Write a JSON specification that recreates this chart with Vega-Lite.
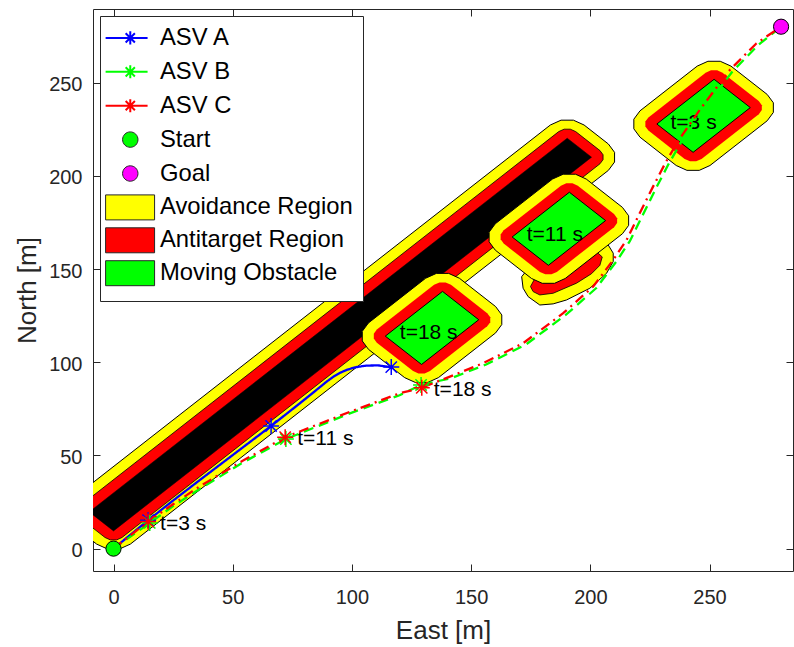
{
  "$schema": "https://vega.github.io/schema/vega-lite/v6.json",
  "width": 700,
  "height": 562,
  "autosize": {"type": "none"},
  "padding": {"left": 93, "top": 9, "right": 1, "bottom": 76},
  "background": "#ffffff",
  "config": {
    "font": "Liberation Sans",
    "view": {"stroke": null},
    "axis": {
      "grid": false, "domainColor": "#262626", "domainWidth": 1, "tickColor": "#262626", "tickWidth": 1,
      "labelColor": "#262626", "titleColor": "#262626", "labelFont": "Liberation Sans", "titleFont": "Liberation Sans",
      "labelFontSize": 20, "titleFontSize": 26, "titleFontWeight": "normal", "tickSize": -7, "zindex": 1,
      "labelFlush": false, "labelOverlap": false
    }
  },
  "encoding": {
    "x": {"field": "x", "type": "quantitative", "scale": {"domain": [-8.6, 285], "nice": false, "zero": false},
      "axis": {"orient": "bottom", "values": [0, 50, 100, 150, 200, 250], "title": "East [m]", "labelPadding": 23, "titlePadding": 10}},
    "y": {"field": "y", "type": "quantitative", "scale": {"domain": [-12, 289.5], "nice": false, "zero": false},
      "axis": {"orient": "left", "values": [0, 50, 100, 150, 200, 250], "title": "North [m]", "labelPadding": 18, "labelOffset": 2, "titlePadding": 8}}
  },
  "layer": [
    {
      "encoding": {"order": {"field": "i", "type": "quantitative"}},
      "layer": [
        {"data": {"values": [
          {"i":0,"x":-17.27,"y":12.63},{"i":1,"x":-19.86,"y":17.11},{"i":2,"x":-19.86,"y":22.29},{"i":3,"x":-17.27,"y":26.77},
          {"i":4,"x":183.23,"y":227.27},{"i":5,"x":187.71,"y":229.86},{"i":6,"x":192.89,"y":229.86},{"i":7,"x":197.37,"y":227.27},
          {"i":8,"x":207.57,"y":217.07},{"i":9,"x":210.16,"y":212.59},{"i":10,"x":210.16,"y":207.41},{"i":11,"x":207.57,"y":202.93},
          {"i":12,"x":7.07,"y":2.43},{"i":13,"x":2.59,"y":-0.16},{"i":14,"x":-2.59,"y":-0.16},{"i":15,"x":-7.07,"y":2.43}]},
         "mark": {"type": "line", "interpolate": "linear-closed", "fill": "#ffff00", "stroke": "#000000", "strokeWidth": 1, "clip": true}},
        {"data": {"values": [
          {"i":0,"x":-13.74,"y":16.16},{"i":1,"x":-15.03,"y":18.41},{"i":2,"x":-15.03,"y":20.99},{"i":3,"x":-13.74,"y":23.24},
          {"i":4,"x":186.76,"y":223.74},{"i":5,"x":189.01,"y":225.03},{"i":6,"x":191.59,"y":225.03},{"i":7,"x":193.84,"y":223.74},
          {"i":8,"x":204.04,"y":213.54},{"i":9,"x":205.33,"y":211.29},{"i":10,"x":205.33,"y":208.71},{"i":11,"x":204.04,"y":206.46},
          {"i":12,"x":3.54,"y":5.96},{"i":13,"x":1.29,"y":4.67},{"i":14,"x":-1.29,"y":4.67},{"i":15,"x":-3.54,"y":5.96}]},
         "mark": {"type": "line", "interpolate": "linear-closed", "fill": "#ff0000", "stroke": "#000000", "strokeWidth": 0.8, "clip": true}},
        {"data": {"values": [
          {"i":0,"x":-10.2,"y":19.7},{"i":1,"x":190.3,"y":220.2},{"i":2,"x":200.5,"y":210.0},{"i":3,"x":0,"y":9.5}]},
         "mark": {"type": "line", "interpolate": "linear-closed", "fill": "#000000", "stroke": "#000000", "strokeWidth": 0.5, "clip": true}},

        {"data": {"values": [
          {"i":0,"x":171.2,"y":145.9},{"i":1,"x":171.8,"y":139.7},{"i":2,"x":173.9,"y":135.2},{"i":3,"x":178.8,"y":130.7},
          {"i":4,"x":184.4,"y":131.3},{"i":5,"x":190.0,"y":133.4},{"i":6,"x":199.8,"y":139.7},{"i":7,"x":206.8,"y":147.7},
          {"i":8,"x":209.6,"y":154.0},{"i":9,"x":209.6,"y":158.5},{"i":10,"x":207.5,"y":162.9},{"i":11,"x":200,"y":168},
          {"i":12,"x":185,"y":160},{"i":13,"x":175,"y":152}]},
         "mark": {"type": "line", "interpolate": "linear-closed", "fill": "#ffff00", "stroke": "#000000", "strokeWidth": 1, "clip": true}},
        {"data": {"values": [
          {"i":0,"x":174.9,"y":140.6},{"i":1,"x":176.0,"y":137.9},{"i":2,"x":178.8,"y":136.1},{"i":3,"x":184.4,"y":137.0},
          {"i":4,"x":194.2,"y":142.4},{"i":5,"x":200.5,"y":147.5},{"i":6,"x":204.0,"y":152.0},{"i":7,"x":205.0,"y":156.5},
          {"i":8,"x":201.0,"y":161.0},{"i":9,"x":190.0,"y":157.0},{"i":10,"x":178.0,"y":148.0}]},
         "mark": {"type": "line", "interpolate": "linear-closed", "fill": "#ff0000", "stroke": "#000000", "strokeWidth": 0.8, "clip": true}},

        {"data": {"values": [
          {"i":0,"x":106.93,"y":106.93},{"i":1,"x":104.34,"y":111.41},{"i":2,"x":104.34,"y":116.59},{"i":3,"x":106.93,"y":121.07},
          {"i":4,"x":130.93,"y":145.07},{"i":5,"x":135.41,"y":147.66},{"i":6,"x":140.59,"y":147.66},{"i":7,"x":145.07,"y":145.07},
          {"i":8,"x":160.27,"y":129.87},{"i":9,"x":162.86,"y":125.39},{"i":10,"x":162.86,"y":120.21},{"i":11,"x":160.27,"y":115.73},
          {"i":12,"x":136.27,"y":91.73},{"i":13,"x":131.79,"y":89.14},{"i":14,"x":126.61,"y":89.14},{"i":15,"x":122.13,"y":91.73}]},
         "mark": {"type": "line", "interpolate": "linear-closed", "fill": "#ffff00", "stroke": "#000000", "strokeWidth": 1, "clip": true}},
        {"data": {"values": [
          {"i":0,"x":110.46,"y":110.46},{"i":1,"x":109.17,"y":112.71},{"i":2,"x":109.17,"y":115.29},{"i":3,"x":110.46,"y":117.54},
          {"i":4,"x":134.46,"y":141.54},{"i":5,"x":136.71,"y":142.83},{"i":6,"x":139.29,"y":142.83},{"i":7,"x":141.54,"y":141.54},
          {"i":8,"x":156.74,"y":126.34},{"i":9,"x":158.03,"y":124.09},{"i":10,"x":158.03,"y":121.51},{"i":11,"x":156.74,"y":119.26},
          {"i":12,"x":132.74,"y":95.26},{"i":13,"x":130.49,"y":93.97},{"i":14,"x":127.91,"y":93.97},{"i":15,"x":125.66,"y":95.26}]},
         "mark": {"type": "line", "interpolate": "linear-closed", "fill": "#ff0000", "stroke": null, "clip": true}},
        {"data": {"values": [
          {"i":0,"x":114.0,"y":114.0},{"i":1,"x":138.0,"y":138.0},{"i":2,"x":153.2,"y":122.8},{"i":3,"x":129.2,"y":98.8}]},
         "mark": {"type": "line", "interpolate": "linear-closed", "fill": "#00ff00", "stroke": "#000000", "strokeWidth": 1, "clip": true}},

        {"data": {"values": [
          {"i":0,"x":160.13,"y":160.13},{"i":1,"x":157.54,"y":164.61},{"i":2,"x":157.54,"y":169.79},{"i":3,"x":160.13,"y":174.27},
          {"i":4,"x":184.13,"y":198.27},{"i":5,"x":188.61,"y":200.86},{"i":6,"x":193.79,"y":200.86},{"i":7,"x":198.27,"y":198.27},
          {"i":8,"x":213.47,"y":183.07},{"i":9,"x":216.06,"y":178.59},{"i":10,"x":216.06,"y":173.41},{"i":11,"x":213.47,"y":168.93},
          {"i":12,"x":189.47,"y":144.93},{"i":13,"x":184.99,"y":142.34},{"i":14,"x":179.81,"y":142.34},{"i":15,"x":175.33,"y":144.93}]},
         "mark": {"type": "line", "interpolate": "linear-closed", "fill": "#ffff00", "stroke": "#000000", "strokeWidth": 1, "clip": true}},
        {"data": {"values": [
          {"i":0,"x":163.66,"y":163.66},{"i":1,"x":162.37,"y":165.91},{"i":2,"x":162.37,"y":168.49},{"i":3,"x":163.66,"y":170.74},
          {"i":4,"x":187.66,"y":194.74},{"i":5,"x":189.91,"y":196.03},{"i":6,"x":192.49,"y":196.03},{"i":7,"x":194.74,"y":194.74},
          {"i":8,"x":209.94,"y":179.54},{"i":9,"x":211.23,"y":177.29},{"i":10,"x":211.23,"y":174.71},{"i":11,"x":209.94,"y":172.46},
          {"i":12,"x":185.94,"y":148.46},{"i":13,"x":183.69,"y":147.17},{"i":14,"x":181.11,"y":147.17},{"i":15,"x":178.86,"y":148.46}]},
         "mark": {"type": "line", "interpolate": "linear-closed", "fill": "#ff0000", "stroke": null, "clip": true}},
        {"data": {"values": [
          {"i":0,"x":167.2,"y":167.2},{"i":1,"x":191.2,"y":191.2},{"i":2,"x":206.4,"y":176.0},{"i":3,"x":182.4,"y":152.0}]},
         "mark": {"type": "line", "interpolate": "linear-closed", "fill": "#00ff00", "stroke": "#000000", "strokeWidth": 1, "clip": true}},

        {"data": {"values": [
          {"i":0,"x":220.83,"y":220.73},{"i":1,"x":218.24,"y":225.21},{"i":2,"x":218.24,"y":230.39},{"i":3,"x":220.83,"y":234.87},
          {"i":4,"x":244.83,"y":258.87},{"i":5,"x":249.31,"y":261.46},{"i":6,"x":254.49,"y":261.46},{"i":7,"x":258.97,"y":258.87},
          {"i":8,"x":274.17,"y":243.67},{"i":9,"x":276.76,"y":239.19},{"i":10,"x":276.76,"y":234.01},{"i":11,"x":274.17,"y":229.53},
          {"i":12,"x":250.17,"y":205.53},{"i":13,"x":245.69,"y":202.94},{"i":14,"x":240.51,"y":202.94},{"i":15,"x":236.03,"y":205.53}]},
         "mark": {"type": "line", "interpolate": "linear-closed", "fill": "#ffff00", "stroke": "#000000", "strokeWidth": 1, "clip": true}},
        {"data": {"values": [
          {"i":0,"x":224.36,"y":224.26},{"i":1,"x":223.07,"y":226.51},{"i":2,"x":223.07,"y":229.09},{"i":3,"x":224.36,"y":231.34},
          {"i":4,"x":248.36,"y":255.34},{"i":5,"x":250.61,"y":256.63},{"i":6,"x":253.19,"y":256.63},{"i":7,"x":255.44,"y":255.34},
          {"i":8,"x":270.64,"y":240.14},{"i":9,"x":271.93,"y":237.89},{"i":10,"x":271.93,"y":235.31},{"i":11,"x":270.64,"y":233.06},
          {"i":12,"x":246.64,"y":209.06},{"i":13,"x":244.39,"y":207.77},{"i":14,"x":241.81,"y":207.77},{"i":15,"x":239.56,"y":209.06}]},
         "mark": {"type": "line", "interpolate": "linear-closed", "fill": "#ff0000", "stroke": null, "clip": true}},
        {"data": {"values": [
          {"i":0,"x":227.9,"y":227.8},{"i":1,"x":251.9,"y":251.8},{"i":2,"x":267.1,"y":236.6},{"i":3,"x":243.1,"y":212.6}]},
         "mark": {"type": "line", "interpolate": "linear-closed", "fill": "#00ff00", "stroke": "#000000", "strokeWidth": 1, "clip": true}},

        {"data": {"values": [
          {"label": "t=18 s", "x": 132.2, "y": 115.6},
          {"label": "t=11 s", "x": 185.1, "y": 168.3},
          {"label": "t=3 s", "x": 243.3, "y": 228.5}]},
         "mark": {"type": "text", "align": "center", "baseline": "middle", "fontSize": 21, "color": "#000000"},
         "encoding": {"text": {"field": "label"}}},
        {"data": {"values": [
          {"label": "t=3 s", "x": 14.5, "y": 14.5},
          {"label": "t=11 s", "x": 72.0, "y": 59.8},
          {"label": "t=18 s", "x": 129.3, "y": 86.3}]},
         "mark": {"type": "text", "align": "left", "baseline": "middle", "dx": 12, "dy": 2, "fontSize": 21, "color": "#000000"},
         "encoding": {"text": {"field": "label"}}},

        {"data": {"values": [
          {"series":"ASV A","i":0,"x":0,"y":0},{"series":"ASV A","i":1,"x":14.5,"y":15.2},{"series":"ASV A","i":2,"x":25,"y":25.8},
          {"series":"ASV A","i":3,"x":36.3,"y":36.9},{"series":"ASV A","i":4,"x":50,"y":50.2},{"series":"ASV A","i":5,"x":66.1,"y":65.8},
          {"series":"ASV A","i":6,"x":78,"y":77.8},{"series":"ASV A","i":7,"x":85,"y":85},{"series":"ASV A","i":8,"x":89,"y":89.2},
          {"series":"ASV A","i":9,"x":92.2,"y":92.2},{"series":"ASV A","i":10,"x":95,"y":94.3},{"series":"ASV A","i":11,"x":98,"y":96},
          {"series":"ASV A","i":12,"x":101.5,"y":97.3},{"series":"ASV A","i":13,"x":106,"y":98.2},{"series":"ASV A","i":14,"x":111,"y":98.3},
          {"series":"ASV A","i":15,"x":116.5,"y":97.4},
          {"series":"ASV B","i":0,"x":0,"y":0},{"series":"ASV B","i":1,"x":15.2,"y":13.8},{"series":"ASV B","i":2,"x":25,"y":22.8},
          {"series":"ASV B","i":3,"x":36.5,"y":32.3},{"series":"ASV B","i":4,"x":54,"y":46},{"series":"ASV B","i":5,"x":72.3,"y":58.8},
          {"series":"ASV B","i":6,"x":100,"y":73},{"series":"ASV B","i":7,"x":120,"y":82.3},{"series":"ASV B","i":8,"x":129,"y":87.8},
          {"series":"ASV B","i":9,"x":142,"y":91.6},{"series":"ASV B","i":10,"x":156.3,"y":98.8},{"series":"ASV B","i":11,"x":173,"y":109.5},
          {"series":"ASV B","i":12,"x":189.8,"y":125.5},{"series":"ASV B","i":13,"x":202.5,"y":139.8},{"series":"ASV B","i":14,"x":210.9,"y":154},
          {"series":"ASV B","i":15,"x":216.5,"y":164.8},{"series":"ASV B","i":16,"x":222,"y":179},{"series":"ASV B","i":17,"x":227.6,"y":193.5},
          {"series":"ASV B","i":18,"x":232.8,"y":206.3},{"series":"ASV B","i":19,"x":238.2,"y":218.3},{"series":"ASV B","i":20,"x":247,"y":234.6},
          {"series":"ASV B","i":21,"x":259.6,"y":256},{"series":"ASV B","i":22,"x":270.6,"y":270.4},{"series":"ASV B","i":23,"x":280,"y":280},
          {"series":"ASV C","i":0,"x":0,"y":0},{"series":"ASV C","i":1,"x":14.5,"y":14.5},{"series":"ASV C","i":2,"x":25,"y":23.8},
          {"series":"ASV C","i":3,"x":36.3,"y":33.5},{"series":"ASV C","i":4,"x":54,"y":47},{"series":"ASV C","i":5,"x":72,"y":59.8},
          {"series":"ASV C","i":6,"x":100,"y":73.8},{"series":"ASV C","i":7,"x":120.2,"y":83.4},{"series":"ASV C","i":8,"x":129.3,"y":86.3},
          {"series":"ASV C","i":9,"x":141.1,"y":92.3},{"series":"ASV C","i":10,"x":155.1,"y":99.5},{"series":"ASV C","i":11,"x":171.8,"y":110.2},
          {"series":"ASV C","i":12,"x":188.6,"y":126.3},{"series":"ASV C","i":13,"x":201.2,"y":140.6},{"series":"ASV C","i":14,"x":209.6,"y":154.9},
          {"series":"ASV C","i":15,"x":215.2,"y":165.6},{"series":"ASV C","i":16,"x":220.7,"y":179.9},{"series":"ASV C","i":17,"x":226.3,"y":194.2},
          {"series":"ASV C","i":18,"x":231.5,"y":207},{"series":"ASV C","i":19,"x":237,"y":219},{"series":"ASV C","i":20,"x":245.9,"y":235.4},
          {"series":"ASV C","i":21,"x":258.5,"y":256.8},{"series":"ASV C","i":22,"x":269.7,"y":271.1},{"series":"ASV C","i":23,"x":280,"y":280}]},
         "mark": {"type": "line", "strokeWidth": 2.3, "clip": true},
         "encoding": {
           "stroke": {"field": "series", "type": "nominal",
             "scale": {"domain": ["ASV A", "ASV B", "ASV C"], "range": ["#0000ff", "#00ff00", "#ff0000"]}, "legend": null},
           "strokeDash": {"field": "series", "type": "nominal",
             "scale": {"domain": ["ASV A", "ASV B", "ASV C"], "range": [[1, 0], [10, 6], [10, 5, 2, 5]]}, "legend": null}
         }},
        {"data": {"values": [
          {"series":"ASV A","x":14.5,"y":15.2},{"series":"ASV A","x":66.1,"y":65.8},{"series":"ASV A","x":116.5,"y":97.4},
          {"series":"ASV B","x":15.2,"y":13.8},{"series":"ASV B","x":72.3,"y":58.8},{"series":"ASV B","x":129,"y":87.8},
          {"series":"ASV C","x":14.5,"y":14.5},{"series":"ASV C","x":72,"y":59.8},{"series":"ASV C","x":129.3,"y":86.3}]},
         "mark": {"type": "point", "filled": false, "shape": "M-1,0H1M0,-1V1M-0.7071,-0.7071L0.7071,0.7071M-0.7071,0.7071L0.7071,-0.7071", "size": 256, "strokeWidth": 1.5, "opacity": 1, "clip": true},
         "encoding": {
           "stroke": {"field": "series", "type": "nominal",
             "scale": {"domain": ["ASV A", "ASV B", "ASV C"], "range": ["#0000ff", "#00ff00", "#ff0000"]}, "legend": null}
         }}
      ]
    },
    {
      "data": {"values": [{"series": "Start", "x": 0, "y": 0}, {"series": "Goal", "x": 280, "y": 280}]},
      "encoding": {
        "x": {"field": "x", "type": "quantitative", "scale": {"domain": [-8.6, 285], "nice": false, "zero": false},
          "axis": {"orient": "top", "values": [0, 50, 100, 150, 200, 250], "labels": false, "title": null}},
        "y": {"field": "y", "type": "quantitative", "scale": {"domain": [-12, 289.5], "nice": false, "zero": false},
          "axis": {"orient": "right", "values": [0, 50, 100, 150, 200, 250], "labels": false, "title": null}}
      },
      "layer": [
        {"mark": {"type": "point", "filled": true, "size": 230, "opacity": 1},
         "encoding": {
           "color": {"field": "series", "type": "nominal",
             "scale": {"domain": ["ASV A", "ASV B", "ASV C", "Start", "Goal", "Avoidance Region", "Antitarget Region", "Moving Obstacle"],
                       "range": ["#0000ff", "#00ff00", "#ff0000", "#00ff00", "#ff00ff", "#ffff00", "#ff0000", "#00ff00"]},
             "legend": {
               "title": null, "orient": "none", "legendX": 7, "legendY": 7, "direction": "vertical", "columns": 1,
               "padding": 10, "fillColor": "#ffffff", "strokeColor": "#262626", "cornerRadius": 0,
               "symbolSize": 1122, "symbolStrokeWidth": 1, "symbolOpacity": 1, "labelFontSize": 23.8, "labelFont": "Liberation Sans",
               "labelColor": "#000000", "labelOffset": 26.2, "rowPadding": -2.1, "labelLimit": 400,
               "encode": {"symbols": {"update": {
                 "shape": {"signal": "indexof(['ASV A','ASV B','ASV C'], datum.value) >= 0 ? 'M-0.973,0H1.534M0.5,-0.39V0.39M0.224,-0.276L0.776,0.276M0.224,0.276L0.776,-0.276M0.5,-0.791M0.5,0.791' : (datum.value === 'Start' || datum.value === 'Goal') ? 'M0.96,0A0.46,0.46,0,1,1,0.04,0A0.46,0.46,0,1,1,0.96,0ZM0.5,-0.925M0.5,0.925' : 'M-0.973,-0.746H1.952V0.746H-0.973ZM0.5,-0.896M0.5,0.896'"},
                 "stroke": {"signal": "indexof(['ASV A','ASV B','ASV C'], datum.value) >= 0 ? scale('color', datum.value) : '#262626'"},
                 "strokeWidth": {"signal": "indexof(['ASV A','ASV B','ASV C'], datum.value) >= 0 ? 2 : 1"},
                 "size": {"value": 1122},
                 "opacity": {"value": 1}
               }}}
             }}
         }},
        {"mark": {"type": "point", "filled": false, "size": 230, "stroke": "#000000", "strokeWidth": 1, "opacity": 1}}
      ]
    }
  ],
  "resolve": {"axis": {"x": "independent", "y": "independent"}}
}
